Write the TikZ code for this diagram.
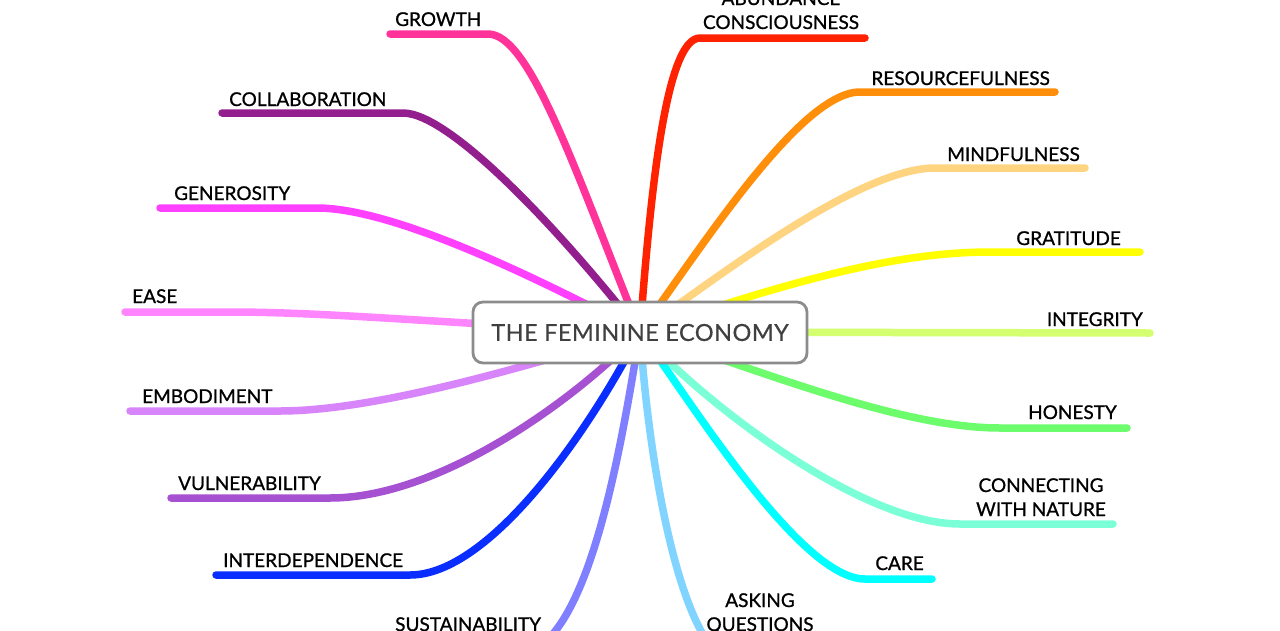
\documentclass[tikz,border=0pt]{standalone}
\usepackage{fontspec}
\setmainfont{Lato}
\newfontfamily\lblfont{Lato}[FakeBold=0.9]
\newfontfamily\titlefont{Lato}[FakeBold=0.5,LetterSpace=2]
\definecolor{cGrowth}{HTML}{FF3399}
\definecolor{cCollab}{HTML}{921F8D}
\definecolor{cGener}{HTML}{FF40FF}
\definecolor{cEase}{HTML}{FF85FF}
\definecolor{cEmbod}{HTML}{D884FA}
\definecolor{cVuln}{HTML}{A650D2}
\definecolor{cInter}{HTML}{0A2EFF}
\definecolor{cSust}{HTML}{7F7FFF}
\definecolor{cAbund}{HTML}{FF2200}
\definecolor{cResou}{HTML}{FF8F0A}
\definecolor{cMind}{HTML}{FFD480}
\definecolor{cGrat}{HTML}{FFFF00}
\definecolor{cInteg}{HTML}{D4FF70}
\definecolor{cHonest}{HTML}{6CFC6C}
\definecolor{cConn}{HTML}{7AFFD6}
\definecolor{cCare}{HTML}{00FFFF}
\definecolor{cAsk}{HTML}{80D4FF}
\definecolor{boxgray}{HTML}{8C8C8C}
\definecolor{titlegray}{HTML}{404040}
\tikzset{
  br/.style={line width=7.5pt, line cap=round, line join=round},
  lbl/.style={inner sep=0pt, font=\lblfont\fontsize{19}{24}\selectfont, text=black},
  hubbox/.style={draw=boxgray, line width=2.8pt, fill=white, rounded corners=10pt,
    minimum width=334pt, minimum height=61pt, inner sep=0pt,
    font=\titlefont\fontsize{23.5}{28}\selectfont, text=titlegray}
}
\begin{document}
\begin{tikzpicture}[x=1pt,y=-1pt]
\useasboundingbox (0,0) rectangle (1280,630);
\fill[white] (0,0) rectangle (1280,630);
\coordinate (hub) at (640,332);
% end points
\coordinate (eGrowth) at (390,34);
\coordinate (eCollab) at (222,113);
\coordinate (eGener) at (160,208);
\coordinate (eEase) at (125,312);
\coordinate (eEmbod) at (130,411);
\coordinate (eVuln) at (171,498);
\coordinate (eInter) at (216,575);
\coordinate (eSust) at (385,660);
\coordinate (eAbund) at (865,38);
\coordinate (eResou) at (1055,92);
\coordinate (eMind) at (1085,168);
\coordinate (eGrat) at (1140,252);
\coordinate (eInteg) at (1150,333);
\coordinate (eHonest) at (1127,428);
\coordinate (eConn) at (1113,524);
\coordinate (eCare) at (932,579);
\coordinate (eAsk) at (830,665);
% left branches
\draw[br,cGrowth] (hub) .. controls (575,170) and (530,34) .. (488,34) -- (eGrowth);
\draw[br,cCollab] (hub) .. controls (560,230) and (450,113) .. (403,113) -- (eCollab);
\draw[br,cGener] (hub) .. controls (560,290) and (400,208) .. (317,208) -- (eGener);
\draw[br,cEase] (hub) .. controls (450,324) and (330,312) .. (230,312) -- (eEase);
\draw[br,cEmbod] (hub) .. controls (540,362) and (380,411) .. (280,411) -- (eEmbod);
\draw[br,cVuln] (hub) .. controls (575,400) and (440,498) .. (330,498) -- (eVuln);
\draw[br,cInter] (hub) .. controls (590,430) and (490,575) .. (410,575) -- (eInter);
\draw[br,cSust] (hub) .. controls (622,440) and (590,645) .. (520,655) -- (eSust);
% right branches
\draw[br,cAbund] (hub) .. controls (650,200) and (665,38) .. (700,38) -- (eAbund);
\draw[br,cResou] (hub) .. controls (700,250) and (800,92) .. (860,92) -- (eResou);
\draw[br,cMind] (hub) .. controls (720,275) and (860,168) .. (935,168) -- (eMind);
\draw[br,cGrat] (hub) .. controls (780,285) and (890,252) .. (990,252) -- (eGrat);
\draw[br,cInteg] (hub) -- (eInteg);
\draw[br,cHonest] (hub) .. controls (760,370) and (900,428) .. (1000,428) -- (eHonest);
\draw[br,cConn] (hub) .. controls (700,400) and (860,524) .. (960,524) -- (eConn);
\draw[br,cCare] (hub) .. controls (690,400) and (800,579) .. (865,579) -- (eCare);
\draw[br,cAsk] (hub) .. controls (650,480) and (685,665) .. (740,665) -- (eAsk);
% central box
\node[hubbox] (center) at (640,332.5) {THE FEMININE ECONOMY};
% labels
\node[lbl,anchor=base west] (lGrowth) at (395,26) {GROWTH};
\node[lbl,anchor=base west] (lCollab) at (229,106) {COLLABORATION};
\node[lbl,anchor=base west] (lGener) at (174,200) {GENEROSITY};
\node[lbl,anchor=base west] (lEase) at (132,303) {EASE};
\node[lbl,anchor=base west] (lEmbod) at (142,403) {EMBODIMENT};
\node[lbl,anchor=base west] (lVuln) at (178,490) {VULNERABILITY};
\node[lbl,anchor=base west] (lInter) at (223,567) {INTERDEPENDENCE};
\node[lbl,anchor=base west] (lSust) at (395,631) {SUSTAINABILITY};
\node[lbl,align=center,anchor=base] (lAbund) at (781,29) {ABUNDANCE\\CONSCIOUSNESS};
\node[lbl,anchor=base east] (lResou) at (1050,85) {RESOURCEFULNESS};
\node[lbl,anchor=base east] (lMind) at (1080,161) {MINDFULNESS};
\node[lbl,anchor=base east] (lGrat) at (1121,245) {GRATITUDE};
\node[lbl,anchor=base east] (lInteg) at (1143,326) {INTEGRITY};
\node[lbl,anchor=base east] (lHonest) at (1117,419) {HONESTY};
\node[lbl,align=center,anchor=base] (lConn) at (1041,516) {CONNECTING\\WITH NATURE};
\node[lbl,anchor=base east] (lCare) at (924,570) {CARE};
\node[lbl,align=center,anchor=base] (lAsk) at (760,631) {ASKING\\QUESTIONS};
\end{tikzpicture}
\end{document}
